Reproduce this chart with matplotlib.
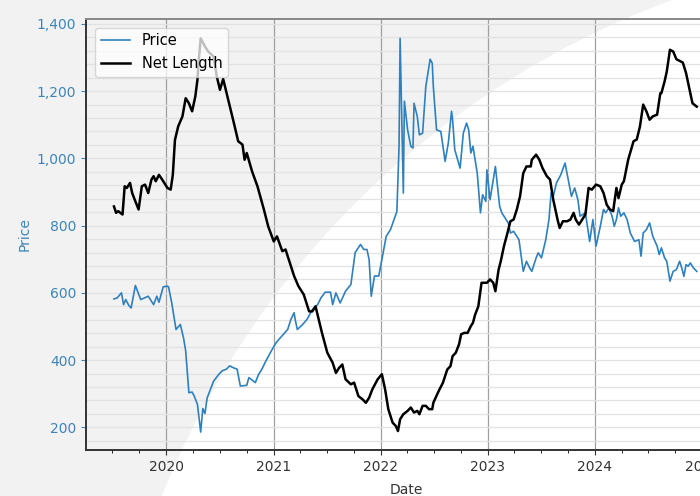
import matplotlib
matplotlib.use("Agg")
import matplotlib.pyplot as plt
import matplotlib.dates as mdates
from matplotlib.patches import Circle
from matplotlib.ticker import MultipleLocator, StrMethodFormatter
import numpy as np
import pandas as pd

# Price (decimal year, value)
price_t = [2019.51, 2019.54, 2019.58, 2019.60, 2019.62, 2019.65, 2019.67, 2019.71, 2019.76, 2019.83,
           2019.88, 2019.91, 2019.93, 2019.97, 2020.01, 2020.02, 2020.05, 2020.09, 2020.13, 2020.16,
           2020.18, 2020.21, 2020.24, 2020.26, 2020.29, 2020.32, 2020.34, 2020.36, 2020.38, 2020.44,
           2020.49, 2020.52, 2020.56, 2020.59, 2020.62, 2020.66, 2020.69, 2020.75, 2020.77, 2020.83,
           2020.86, 2020.89, 2020.92, 2020.97, 2021.02, 2021.06, 2021.13, 2021.16, 2021.19, 2021.20,
           2021.22, 2021.27, 2021.31, 2021.36, 2021.41, 2021.44, 2021.48, 2021.53, 2021.55, 2021.58,
           2021.62, 2021.67, 2021.72, 2021.76, 2021.81, 2021.84, 2021.87, 2021.89, 2021.91, 2021.94,
           2021.98, 2022.01, 2022.05, 2022.09, 2022.14, 2022.15, 2022.17, 2022.18, 2022.21, 2022.22,
           2022.25, 2022.28, 2022.30, 2022.31, 2022.34, 2022.36, 2022.39, 2022.42, 2022.46, 2022.48,
           2022.49, 2022.52, 2022.56, 2022.58, 2022.60, 2022.63, 2022.66, 2022.67, 2022.69, 2022.74,
           2022.77, 2022.80, 2022.82, 2022.84, 2022.86, 2022.90, 2022.93, 2022.95, 2022.98, 2022.99,
           2023.02, 2023.07, 2023.11, 2023.13, 2023.16, 2023.19, 2023.21, 2023.24, 2023.29, 2023.33,
           2023.36, 2023.39, 2023.41, 2023.45, 2023.47, 2023.50, 2023.54, 2023.57, 2023.59, 2023.61,
           2023.64, 2023.68, 2023.72, 2023.75, 2023.78, 2023.81, 2023.84, 2023.86, 2023.91, 2023.95,
           2023.98, 2024.01, 2024.05, 2024.08, 2024.10, 2024.13, 2024.16, 2024.18, 2024.20, 2024.22,
           2024.24, 2024.27, 2024.30, 2024.33, 2024.37, 2024.41, 2024.43, 2024.45, 2024.48, 2024.51,
           2024.54, 2024.58, 2024.60, 2024.62, 2024.65, 2024.67, 2024.70, 2024.73, 2024.76, 2024.79,
           2024.81, 2024.83, 2024.85, 2024.87, 2024.89, 2024.92, 2024.95]
price = [582, 585, 600, 565, 580, 562, 555, 622, 580, 590,
         565, 590, 572, 618, 620, 618, 570, 491, 506, 466,
         428, 303, 305, 293, 268, 186, 256, 241, 287, 337,
         358, 368, 373, 383, 378, 373, 323, 325, 348, 333,
         357, 372, 392, 422, 451, 466, 491, 521, 541, 521,
         491, 506, 521, 550, 565, 585, 602, 602, 565, 600,
         570, 605, 625, 720, 744, 729, 729, 699, 590, 650,
         650, 699, 768, 788, 833, 843, 1036, 1357, 897, 1170,
         1085, 1036, 1031, 1164, 1125, 1070, 1075, 1214, 1295, 1283,
         1214, 1085, 1080, 1036, 991, 1046, 1140, 1115, 1026, 971,
         1075, 1105, 1085, 1016, 1036, 956, 838, 892, 872, 966,
         877, 976, 857, 838, 823, 808, 778, 783, 758, 664,
         694, 674, 664, 704, 719, 704, 758, 818, 897, 887,
         927, 951, 986, 937, 887, 912, 877, 828, 838, 753,
         818, 739, 798, 848, 838, 853, 828, 798, 818, 853,
         828, 838, 818, 778, 753, 758, 709, 778, 788, 808,
         768, 739, 714, 734, 704, 694, 635, 664, 669, 694,
         674, 649, 684, 679, 689, 674, 664]

# Net length (decimal year, value on the twin axis)
net_t = [2019.51, 2019.53, 2019.55, 2019.59, 2019.61, 2019.63, 2019.66, 2019.68, 2019.71, 2019.74,
         2019.77, 2019.80, 2019.83, 2019.86, 2019.88, 2019.90, 2019.93, 2019.96, 2020.01, 2020.04,
         2020.06, 2020.08, 2020.11, 2020.15, 2020.18, 2020.21, 2020.24, 2020.27, 2020.29, 2020.30,
         2020.32, 2020.36, 2020.39, 2020.44, 2020.47, 2020.50, 2020.53, 2020.57, 2020.63, 2020.67,
         2020.71, 2020.73, 2020.75, 2020.80, 2020.85, 2020.91, 2020.95, 2021.00, 2021.03, 2021.08,
         2021.11, 2021.14, 2021.19, 2021.23, 2021.28, 2021.33, 2021.36, 2021.39, 2021.42, 2021.45,
         2021.50, 2021.55, 2021.58, 2021.61, 2021.64, 2021.67, 2021.72, 2021.75, 2021.79, 2021.83,
         2021.86, 2021.89, 2021.92, 2021.97, 2022.01, 2022.04, 2022.07, 2022.11, 2022.14, 2022.16,
         2022.18, 2022.21, 2022.25, 2022.28, 2022.31, 2022.34, 2022.36, 2022.39, 2022.42, 2022.45,
         2022.48, 2022.49, 2022.54, 2022.58, 2022.62, 2022.65, 2022.67, 2022.70, 2022.73, 2022.75,
         2022.78, 2022.81, 2022.84, 2022.86, 2022.88, 2022.91, 2022.94, 2022.99, 2023.02, 2023.05,
         2023.07, 2023.10, 2023.12, 2023.15, 2023.18, 2023.21, 2023.24, 2023.27, 2023.30, 2023.33,
         2023.36, 2023.40, 2023.41, 2023.45, 2023.48, 2023.51, 2023.55, 2023.58, 2023.61, 2023.65,
         2023.67, 2023.70, 2023.74, 2023.77, 2023.80, 2023.82, 2023.85, 2023.88, 2023.91, 2023.94,
         2023.97, 2024.01, 2024.05, 2024.08, 2024.11, 2024.14, 2024.17, 2024.20, 2024.22, 2024.25,
         2024.27, 2024.31, 2024.36, 2024.39, 2024.42, 2024.45, 2024.48, 2024.51, 2024.54, 2024.58,
         2024.61, 2024.62, 2024.65, 2024.67, 2024.70, 2024.73, 2024.76, 2024.79, 2024.82, 2024.85,
         2024.87, 2024.91, 2024.95]
net_length = [857, 838, 843, 833, 917, 912, 927, 897, 872, 848,
              917, 922, 897, 937, 947, 932, 951, 937, 912, 907,
              951, 1055, 1095, 1125, 1179, 1164, 1140, 1184, 1234, 1283,
              1357, 1333, 1318, 1303, 1244, 1204, 1236, 1184, 1105, 1051,
              1041, 996, 1016, 961, 917, 848, 798, 753, 768, 724,
              729, 699, 650, 620, 595, 545, 545, 560, 521, 481,
              422, 392, 362, 377, 387, 343, 328, 333, 293, 283,
              273, 288, 313, 343, 358, 313, 254, 214, 204, 189,
              224, 239, 249, 259, 244, 249, 239, 264, 264, 254,
              254, 273, 308, 333, 372, 382, 412, 422, 447, 477,
              481, 481, 501, 511, 535, 560, 630, 630, 640, 630,
              605, 669, 694, 739, 775, 813, 818, 848, 887, 956,
              976, 976, 996, 1011, 996, 971, 947, 937, 877, 818,
              793, 813, 813, 818, 838, 818, 803, 818, 833, 912,
              907, 922, 917, 897, 862, 848, 843, 912, 882, 922,
              932, 996, 1051, 1056, 1095, 1160, 1140, 1115, 1125, 1130,
              1194, 1194, 1229, 1258, 1323, 1318, 1295, 1290, 1285, 1254,
              1224, 1164, 1154]


def dec_to_date(v):
    y = int(np.floor(v))
    return pd.Timestamp(year=y, month=1, day=1) + pd.Timedelta(days=(v - y) * 365.25)


price_dates = [dec_to_date(v) for v in price_t]
net_dates = [dec_to_date(v) for v in net_t]

blue = "#2f80bd"
label_blue = "#3d85b8"

fig = plt.figure(figsize=(7, 4.96), dpi=100)
fig.patch.set_facecolor("#f2f2f2")
# white curved backdrop
fig.add_artist(Circle((9.78, -3.29), 8.8, transform=fig.dpi_scale_trans,
                      facecolor="white", edgecolor="none", zorder=-1))

ax = fig.add_axes([0.123, 0.093, 0.914, 0.869])
ax.patch.set_alpha(0)
ax.plot(price_dates, price, color=blue, lw=1.2, label="Price")

ax.set_xlim(dec_to_date(2019.25), dec_to_date(2025.22))
ax.set_ylim(133, 1415)
ax.yaxis.set_major_locator(MultipleLocator(200))
ax.yaxis.set_minor_locator(MultipleLocator(40))
ax.yaxis.set_major_formatter(StrMethodFormatter("{x:,.0f}"))
ax.xaxis.set_major_locator(mdates.YearLocator())
ax.xaxis.set_minor_locator(mdates.MonthLocator((4, 7, 10)))
ax.xaxis.set_major_formatter(mdates.DateFormatter("%Y"))
ax.tick_params(axis="y", colors=label_blue, labelsize=10, which="both")
ax.tick_params(axis="y", which="minor", length=0)
ax.tick_params(axis="x", colors="#333333", labelsize=10)
ax.tick_params(axis="x", which="minor", length=2.5)
ax.set_ylabel("Price", color=label_blue, fontsize=10)
ax.set_xlabel("Date", color="#333333", fontsize=10, labelpad=7)
ax.grid(axis="y", which="both", color="#e2e2e2", lw=0.9)
ax.grid(axis="x", which="major", color="#a0a0a0", lw=0.9)
ax.set_axisbelow(True)
for s in ["left", "bottom"]:
    ax.spines[s].set_color("#333333")
    ax.spines[s].set_linewidth(1.4)
ax.spines["top"].set_color("#888888")
ax.spines["top"].set_linewidth(1.4)

ax2 = ax.twinx()
ax2.patch.set_alpha(0)
ax2.plot(net_dates, net_length, color="black", lw=1.8, label="Net Length")
ax2.set_ylim(ax.get_ylim())
ax2.set_yticks([])
for s in ax2.spines.values():
    s.set_visible(False)

h1, l1 = ax.get_legend_handles_labels()
h2, l2 = ax2.get_legend_handles_labels()
ax2.legend(h1 + h2, l1 + l2, loc="upper left", fontsize=10.5, framealpha=0.75,
           edgecolor="#cccccc", borderaxespad=0.6)

fig.savefig("out.png", dpi=100, facecolor=fig.get_facecolor())
